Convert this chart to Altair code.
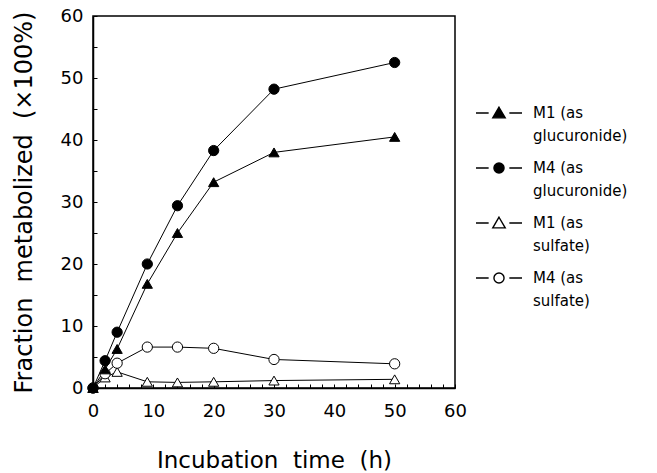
import altair as alt
import pandas as pd

# ---- data ----
times = [0, 2, 4, 9, 14, 20, 30, 50]
m1_gluc = [0, 3.0, 6.3, 16.8, 25.0, 33.2, 38.0, 40.5]
m4_gluc = [0, 4.4, 9.0, 20.0, 29.4, 38.3, 48.2, 52.5]
m1_sulf = [0, 1.7, 2.6, 1.0, 0.9, 1.0, 1.2, 1.4]
m4_sulf = [0, 2.3, 4.0, 6.6, 6.6, 6.4, 4.6, 3.9]
series_names = ["M1 (as glucuronide)", "M4 (as glucuronide)",
                "M1 (as sulfate)", "M4 (as sulfate)"]
x_ticks = list(range(0, 61, 2))
y_ticks = list(range(0, 61, 5))

values_by_series = dict(zip(series_names, [m1_gluc, m4_gluc, m1_sulf, m4_sulf]))
rows = []
# sulfate first so glucuronide markers are drawn on top
for name in ["M1 (as sulfate)", "M4 (as sulfate)", "M1 (as glucuronide)", "M4 (as glucuronide)"]:
    for t, v in zip(times, values_by_series[name]):
        rows.append({"series": name, "time": t, "value": v})
df = pd.DataFrame(rows)

FONT = "DejaVu Sans"

x_enc = alt.X(
    "time:Q",
    scale=alt.Scale(domain=[0, 60], nice=False, zero=True),
    axis=alt.Axis(
        values=x_ticks,
        labelExpr="datum.value % 10 === 0 ? datum.label : ''",
        labelOverlap=False,
        labelFlush=False,
        labelBound=False,
        title="Incubation\u00a0 time\u00a0 (h)",
        tickSize={"expr": "-4"},
        labelPadding=18,
        titlePadding=29,
        grid=False,
    ),
)
y_enc = alt.Y(
    "value:Q",
    scale=alt.Scale(domain=[0, 60], nice=False),
    axis=alt.Axis(
        values=y_ticks,
        labelExpr="datum.value % 10 === 0 ? datum.label : ''",
        labelOverlap=False,
        labelFlush=False,
        title="Fraction\u00a0 metabolized\u00a0 (\u00d7100%)",
        tickSize={"expr": "-4"},
        labelPadding=14,
        titlePadding=24,
        grid=False,
    ),
)

lines = alt.Chart(df).mark_line(color="black", strokeWidth=1).encode(
    x=x_enc, y=y_enc, detail="series:N", order="time:Q"
)

points = alt.Chart(df).mark_point(
    stroke="black", strokeWidth=1, opacity=1, fillOpacity=1, size=105
).encode(
    x=x_enc,
    y=y_enc,
    shape=alt.Shape("series:N", scale=alt.Scale(
        domain=series_names,
        range=["triangle-up", "circle", "triangle-up", "circle"]), legend=None),
    fill=alt.Fill("series:N", scale=alt.Scale(
        domain=series_names,
        range=["black", "black", "white", "white"]), legend=None),
)

tri_path = "M-1,0H-0.45M0.45,0H1M0,-0.25L0.27,0.21L-0.27,0.21Z"
circ_path = "M-1,0H-0.45M0.45,0H1M0.22,0A0.22,0.22,0,1,1,-0.22,0A0.22,0.22,0,1,1,0.22,0Z"

legend_layer = alt.Chart(df).transform_filter("false").mark_point(
    strokeWidth=1.4, fillOpacity=1, opacity=1
).encode(
    x=x_enc,
    y=y_enc,
    shape=alt.Shape("series:N", scale=alt.Scale(
        domain=series_names,
        range=[tri_path, circ_path, tri_path, circ_path]),
        legend=alt.Legend(
            title=None, orient="none", legendX=382, legendY=73,
            symbolSize=2116, symbolStrokeWidth=1.4, symbolOpacity=1,
            labelExpr="[substring(datum.label, 0, 6), substring(datum.label, 7)]",
            labelFont=FONT, labelFontSize=15, labelColor="black",
            labelOffset=10, labelLimit=300, rowPadding=-5, padding=0,
        )),
    fill=alt.Fill("series:N", scale=alt.Scale(
        domain=series_names,
        range=["black", "black", "white", "white"])),
    stroke=alt.Stroke("series:N", scale=alt.Scale(
        domain=series_names,
        range=["black", "black", "black", "black"])),
)

chart = alt.layer(lines, points, legend_layer).resolve_scale(
    shape="independent", fill="independent", stroke="independent"
).properties(
    width=362, height=372,
    background="white",
    autosize=alt.AutoSizeParams(type="none"),
    padding={"left": 85, "top": 8, "right": 194, "bottom": 85},
).configure(
    style={"guide-label": {"lineHeight": 23}}
).configure_view(
    stroke="black", strokeWidth=1.5
).configure_axis(
    domainColor="black", domainWidth=1.5, tickColor="black", tickWidth=1,
    labelOverlap=False, labelFlush=False,
    labelFont=FONT, labelFontSize=18, labelColor="black",
    titleFont=FONT, titleFontSize=23, titleFontWeight="normal", titleColor="black",
).configure_axisY(titleFontSize=24)

chart.save("out.html", embed_options={"renderer": "svg", "actions": False})
